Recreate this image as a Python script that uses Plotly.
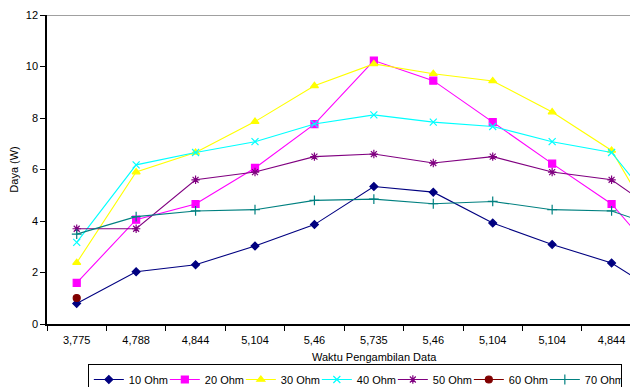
import plotly.graph_objects as go

categories = ["3,775", "4,788", "4,844", "5,104", "5,46", "5,735", "5,46", "5,104", "5,104", "4,844", "4,788"]

series_names = ["10 Ohm", "20 Ohm", "30 Ohm", "40 Ohm", "50 Ohm", "60 Ohm", "70 Ohm"]
ohm10 = [0.80, 2.03, 2.30, 3.03, 3.86, 5.34, 5.12, 3.92, 3.09, 2.37, 0.90]
ohm20 = [1.60, 4.05, 4.66, 6.06, 7.76, 10.23, 9.45, 7.84, 6.23, 4.66, 2.00]
ohm30 = [2.38, 5.90, 6.66, 7.86, 9.25, 10.10, 9.72, 9.44, 8.23, 6.74, 2.80]
ohm40 = [3.17, 6.18, 6.66, 7.08, 7.77, 8.12, 7.84, 7.67, 7.08, 6.66, 3.80]
ohm50 = [3.70, 3.70, 5.60, 5.90, 6.50, 6.60, 6.25, 6.50, 5.90, 5.60, 4.00]
ohm60 = [1.01]
ohm70 = [3.49, 4.17, 4.39, 4.44, 4.80, 4.85, 4.67, 4.76, 4.44, 4.39, 3.60]

all_values = [ohm10, ohm20, ohm30, ohm40, ohm50, ohm60, ohm70]
colors = ["#000080", "#FF00FF", "#FFFF00", "#00FFFF", "#800080", "#800000", "#008080"]
symbols = ["diamond", "square", "triangle-up", "x-thin", "asterisk", "circle", "cross-thin"]
msizes = [6, 7, 7, 7, 7, 7, 7]

FONT = "Liberation Sans, Arial, sans-serif"

fig = go.Figure()
for name, vals, c, s, ms in zip(series_names, all_values, colors, symbols, msizes):
    fig.add_trace(go.Scatter(
        x=list(range(len(vals))), y=vals, name=name, mode="lines+markers",
        line=dict(color=c, width=1.1),
        marker=dict(color=c, symbol=s, size=ms, line=dict(color=c, width=1.2)),
        cliponaxis=True,
    ))

fig.update_layout(
    width=630, height=387,
    margin=dict(l=47, r=0, t=15, b=63, autoexpand=False),
    paper_bgcolor="white", plot_bgcolor="white",
    font=dict(family=FONT, size=11, color="#000000"),
    showlegend=True,
    legend=dict(
        orientation="h", x=0.986, xanchor="right", y=-0.1295, yanchor="top",
        bordercolor="#000000", borderwidth=1, bgcolor="white",
        font=dict(family=FONT, size=11, color="#000000"),
        entrywidth=31, entrywidthmode="pixels", itemwidth=30,
        tracegroupgap=0,
    ),
    xaxis=dict(
        range=[-0.5, 9.31],
        tickmode="array", tickvals=list(range(len(categories))), ticktext=categories,
        ticks="outside", ticklen=5, tickcolor="rgba(0,0,0,0)",
        minor=dict(tick0=0.5, dtick=1, ticks="outside", ticklen=5, tickcolor="#000000", showgrid=False),
        showgrid=False, zeroline=False,
        showline=True, linecolor="#000000", linewidth=1.5,
        tickfont=dict(family=FONT, size=11, color="#000000"),
    ),
    yaxis=dict(
        range=[0, 12], tickmode="linear", tick0=0, dtick=2,
        ticks="outside", ticklen=5, tickcolor="#000000",
        showgrid=False, zeroline=False,
        showline=True, linecolor="#000000", linewidth=1.5,
        tickfont=dict(family=FONT, size=11, color="#000000"),
    ),
    shapes=[dict(type="line", xref="paper", yref="y", x0=0, x1=1, y0=12, y1=12,
                 line=dict(color="#808080", width=1.5))],
    annotations=[
        dict(text="Waktu Pengambilan Data", xref="paper", yref="paper", x=0.561, y=-0.107,
             xanchor="center", yanchor="middle", showarrow=False,
             font=dict(family=FONT, size=11, color="#000000")),
        dict(text="Daya (W)", xref="paper", yref="paper", x=-0.058, y=0.5,
             xanchor="center", yanchor="middle", showarrow=False, textangle=-90,
             font=dict(family=FONT, size=11, color="#000000")),
    ],
)

fig.write_html("out.html", config={"displayModeBar": False},
               post_script="document.body.style.margin='0px';document.body.style.overflow='hidden';")
